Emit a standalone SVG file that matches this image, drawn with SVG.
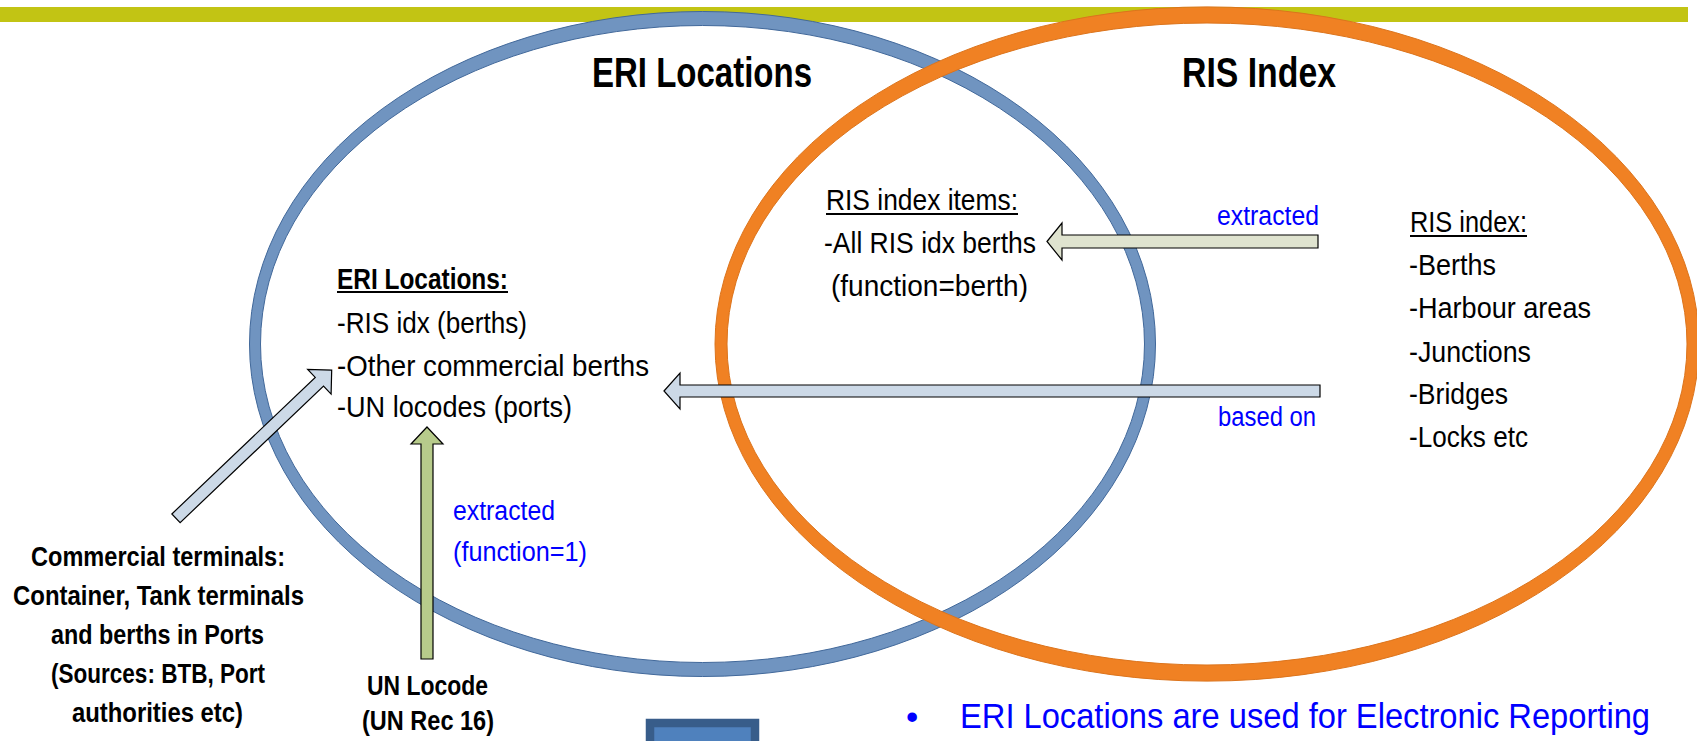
<svg xmlns="http://www.w3.org/2000/svg" width="1697" height="741" viewBox="0 0 1697 741">
<style>
.t{font-family:"Liberation Sans",Arial,sans-serif;fill:#000}
.b{font-weight:bold}
.title{font-size:43px;font-weight:bold}
.lst{font-size:30px}
.lbl{font-size:27px;fill:#0000ff}
.src{font-size:27px;font-weight:bold}
.foot{font-size:35px;fill:#0000ff}
.ul{stroke:#000;stroke-width:2}
.arrow{stroke:#000;stroke-width:1.2;stroke-linejoin:miter}
</style>
<rect id="band" x="0" y="7" width="1688" height="15" fill="#c2c414"/>
<g id="eri-set">
<path d="M249.5,344 a453,332.5 0 1,0 906,0 a453,332.5 0 1,0 -906,0 Z M260.5,344 a442,318.5 0 1,0 884,0 a442,318.5 0 1,0 -884,0 Z" fill="#7094c0" fill-rule="evenodd" stroke="#41689a" stroke-width="1"/>
<text class="t title" x="592" y="87" textLength="220" lengthAdjust="spacingAndGlyphs">ERI Locations</text>
</g>
<g id="ris-set">
<path d="M715,344 a492,337 0 1,0 984,0 a492,337 0 1,0 -984,0 Z M727,344 a480,321 0 1,0 960,0 a480,321 0 1,0 -960,0 Z" fill="#f08123" fill-rule="evenodd" stroke="#dc741c" stroke-width="1"/>
<text class="t title" x="1182" y="87" textLength="154" lengthAdjust="spacingAndGlyphs">RIS Index</text>
</g>
<g id="connectors">
<polygon class="arrow" fill="#dfe3cf" points="1047,241.5 1062,223 1062,235 1318,235 1318,248 1062,248 1062,260"/>
<polygon class="arrow" fill="#ccd9e7" points="664,391 680,373 680,385 1320,385 1320,397 680,397 680,409"/>
<polygon class="arrow" fill="#ccd9e7" transform="translate(176,518.3) rotate(-43.6)" points="0,-6 198,-6 198,-17 215,0 198,17 198,6 0,6"/>
<polygon class="arrow" fill="#b7cb8b" points="427,427 443,444 433,444 433,659 421,659 421,444 411,444"/>
<text class="t lbl" x="1217" y="225" textLength="102" lengthAdjust="spacingAndGlyphs">extracted</text>
<text class="t lbl" x="1218" y="426" textLength="98" lengthAdjust="spacingAndGlyphs">based on</text>
<text class="t lbl" x="453" y="520" textLength="102" lengthAdjust="spacingAndGlyphs">extracted</text>
<text class="t lbl" x="453" y="561" textLength="134" lengthAdjust="spacingAndGlyphs">(function=1)</text>
</g>
<g id="eri-list">
<text class="t lst b" x="337" y="289" textLength="171" lengthAdjust="spacingAndGlyphs">ERI Locations:</text>
<line class="ul" x1="337" y1="292" x2="508" y2="292"/>
<text class="t lst" x="337" y="333" textLength="190" lengthAdjust="spacingAndGlyphs">-RIS idx (berths)</text>
<text class="t lst" x="337" y="376" textLength="312" lengthAdjust="spacingAndGlyphs">-Other commercial berths</text>
<text class="t lst" x="337" y="417" textLength="235" lengthAdjust="spacingAndGlyphs">-UN locodes (ports)</text>
</g>
<g id="ris-items">
<text class="t lst" x="826" y="210" textLength="192" lengthAdjust="spacingAndGlyphs">RIS index items:</text>
<line class="ul" x1="826" y1="214" x2="1018" y2="214" stroke-width="1.6"/>
<text class="t lst" x="824" y="253" textLength="212" lengthAdjust="spacingAndGlyphs">-All RIS idx berths</text>
<text class="t lst" x="831" y="296" textLength="197" lengthAdjust="spacingAndGlyphs">(function=berth)</text>
</g>
<g id="ris-list">
<text class="t lst" x="1410" y="232" textLength="117" lengthAdjust="spacingAndGlyphs">RIS index:</text>
<line class="ul" x1="1410" y1="236" x2="1527" y2="236" stroke-width="1.6"/>
<text class="t lst" x="1409" y="275" textLength="87" lengthAdjust="spacingAndGlyphs">-Berths</text>
<text class="t lst" x="1409" y="318" textLength="182" lengthAdjust="spacingAndGlyphs">-Harbour areas</text>
<text class="t lst" x="1409" y="362" textLength="122" lengthAdjust="spacingAndGlyphs">-Junctions</text>
<text class="t lst" x="1409" y="404" textLength="99" lengthAdjust="spacingAndGlyphs">-Bridges</text>
<text class="t lst" x="1409" y="447" textLength="119" lengthAdjust="spacingAndGlyphs">-Locks etc</text>
</g>
<g id="commercial">
<text class="t src" x="31" y="566" textLength="254" lengthAdjust="spacingAndGlyphs">Commercial terminals:</text>
<text class="t src" x="13" y="605" textLength="291" lengthAdjust="spacingAndGlyphs">Container, Tank terminals</text>
<text class="t src" x="51" y="644" textLength="213" lengthAdjust="spacingAndGlyphs">and berths in Ports</text>
<text class="t src" x="51" y="683" textLength="214" lengthAdjust="spacingAndGlyphs">(Sources: BTB, Port</text>
<text class="t src" x="72" y="722" textLength="171" lengthAdjust="spacingAndGlyphs">authorities etc)</text>
</g>
<g id="unlocode">
<text class="t src" x="367" y="695" textLength="121" lengthAdjust="spacingAndGlyphs">UN Locode</text>
<text class="t src" x="362" y="730" textLength="132" lengthAdjust="spacingAndGlyphs">(UN Rec 16)</text>
</g>
<g id="footer">
<rect x="650" y="723" width="105" height="60" fill="#4f81bd" stroke="#385d8a" stroke-width="8.5"/>
<text class="t foot" x="906" y="729">•</text>
<text class="t foot" x="960" y="728" textLength="690" lengthAdjust="spacingAndGlyphs">ERI Locations are used for Electronic Reporting</text>
</g>
</svg>
